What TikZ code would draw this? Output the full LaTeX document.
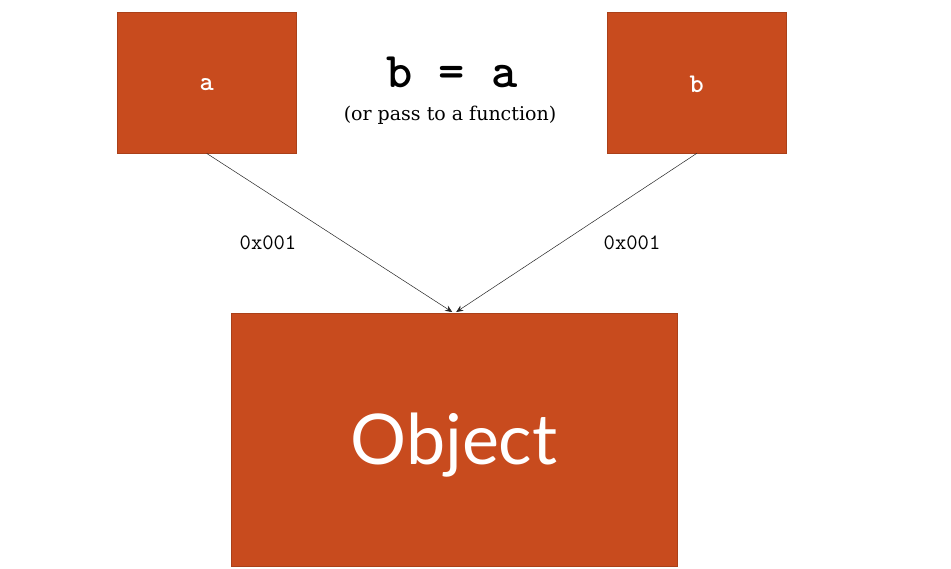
\documentclass[tikz,border=0pt]{standalone}
\usepackage{fontspec}
\setmainfont{DejaVu Serif}
\newfontfamily\objfont{Lato}
\usepackage{tikz}
\usetikzlibrary{arrows,arrows.meta,shapes,calc,positioning}
\usepackage{xcolor}
\definecolor{boxred}{RGB}{200,75,30}

\begin{document}
\begin{tikzpicture}[x=1pt, y=-1pt,
	refbox/.style={fill=boxred, draw=boxred!85!black, line width=0.4pt, inner sep=0pt, anchor=north west},
	ptr/.style={-{Stealth[length=7pt,width=6pt]}, line width=0.5pt, black!85},
	addr/.style={font=\ttfamily\fontsize{22}{24}\selectfont}]

			% canvas of the reference
			\useasboundingbox (0,0) rectangle (951,568);
			\fill[white] (0,0) rectangle (951,568);

			\def\bw{179} \def\bh{141} % size of the variable boxes

			% variable boxes
			\node[refbox, minimum width=\bw, minimum height=\bh] (a) at (117,12) {};
			\node[refbox, minimum width=\bw, minimum height=\bh] (b) at (607,12) {};
			\node[font=\ttfamily\bfseries\fontsize{27}{29}\selectfont, text=white] (alabel) at ($(a.center)+(0,2)$) {a};
			\node[font=\ttfamily\bfseries\fontsize{27}{29}\selectfont, text=white] (blabel) at ($(b.center)+(0,2)$) {b};

			% the object both names point to
			\node[refbox, minimum width=446, minimum height=253] (obj) at (231,313) {};
			\node[font=\objfont\fontsize{70}{76}\selectfont, text=white] (objlabel) at (454,445) {Object};

			% title
			\node[font=\ttfamily\bfseries\fontsize{50}{54}\selectfont] (title) at (452,72) {b = a};
			\node[font=\fontsize{19}{22}\selectfont] (note) at (450,115) {(or pass to a function)};

			% references
			\coordinate (tipa) at ($(obj.north)+(-2,-1)$);
			\coordinate (tipb) at ($(obj.north)+(2,-1)$);
			\draw[ptr] (a.south) -- (tipa);
			\draw[ptr] (b.south) -- (tipb);

			% addresses
			\node[addr] (addra) at (268,243) {0x001};
			\node[addr] (addrb) at (632,243) {0x001};
		\end{tikzpicture}
\end{document}
